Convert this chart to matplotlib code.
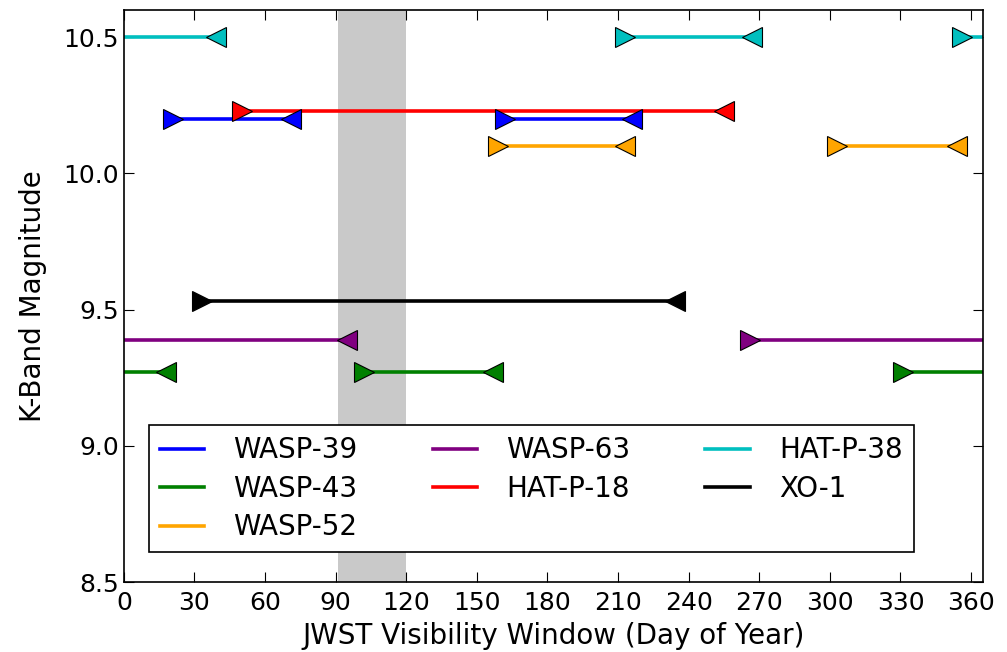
import matplotlib
matplotlib.use('Agg')
import matplotlib.pyplot as plt
from matplotlib.lines import Line2D

# planets, K-band magnitude, colour and visibility windows (start day, end day)
# a window with start > end wraps over the new year
planets = ['WASP-39', 'WASP-43', 'WASP-52', 'WASP-63', 'HAT-P-18', 'HAT-P-38', 'XO-1']
kmag = [10.20, 9.27, 10.10, 9.39, 10.23, 10.50, 9.53]
colors = ['b', 'g', 'orange', 'purple', 'r', 'c', 'k']
windows = [
    [(21, 71), (162, 216)],
    [(331, 18), (102, 157)],
    [(159, 213), (303, 354)],
    [(266, 95)],
    [(50, 255)],
    [(356, 39), (213, 267)],
    [(33, 234)],
]
gap = (91, 120)  # days of the year with no visibility

plt.rcParams['font.family'] = 'DejaVu Sans'
plt.rcParams['xtick.direction'] = 'in'
plt.rcParams['ytick.direction'] = 'in'

fig = plt.figure(figsize=(10.07, 6.52), dpi=100)
ax = fig.add_axes([0.123, 0.107, 0.853, 0.878])

ax.axvspan(gap[0], gap[1], color='0.79', lw=0, zorder=0)

ms = 15
lw = 2.6
handles = []
for name, k, c, win in zip(planets, kmag, colors, windows):
    for start, end in win:
        if start > end:
            ax.plot([start, 365], [k, k], color=c, lw=lw, zorder=2)
            ax.plot([0, end], [k, k], color=c, lw=lw, zorder=2)
        else:
            ax.plot([start, end], [k, k], color=c, lw=lw, zorder=2)
        ax.plot([start], [k], marker='>', ms=ms, color=c, mec='k', mew=0.8,
                zorder=3, clip_on=False)
        ax.plot([end], [k], marker='<', ms=ms, color=c, mec='k', mew=0.8,
                zorder=3, clip_on=False)
    handles.append(Line2D([], [], color=c, lw=lw, label=name))

ax.set_xlim(0, 365)
ax.set_ylim(8.5, 10.6)
ax.set_xticks(range(0, 361, 30))
ax.set_yticks([8.5, 9.0, 9.5, 10.0, 10.5])
ax.tick_params(labelsize=18, top=True, right=True, length=7, width=0.8)
ax.tick_params(axis='x', pad=6)
for s in ax.spines.values():
    s.set_linewidth(1.2)

ax.set_xlabel('JWST Visibility Window (Day of Year)', fontsize=20, labelpad=5)
ax.set_ylabel('K-Band Magnitude', fontsize=20, labelpad=12)

leg = ax.legend(handles=handles, ncol=3, loc='lower left',
                bbox_to_anchor=(0.029, 0.052), borderaxespad=0,
                fontsize=20, fancybox=False, edgecolor='k', framealpha=1,
                handlelength=1.6, handletextpad=1.05, columnspacing=2.7,
                labelspacing=0.38)
leg.get_frame().set_linewidth(1.2)

fig.savefig('out.png', dpi=100)
